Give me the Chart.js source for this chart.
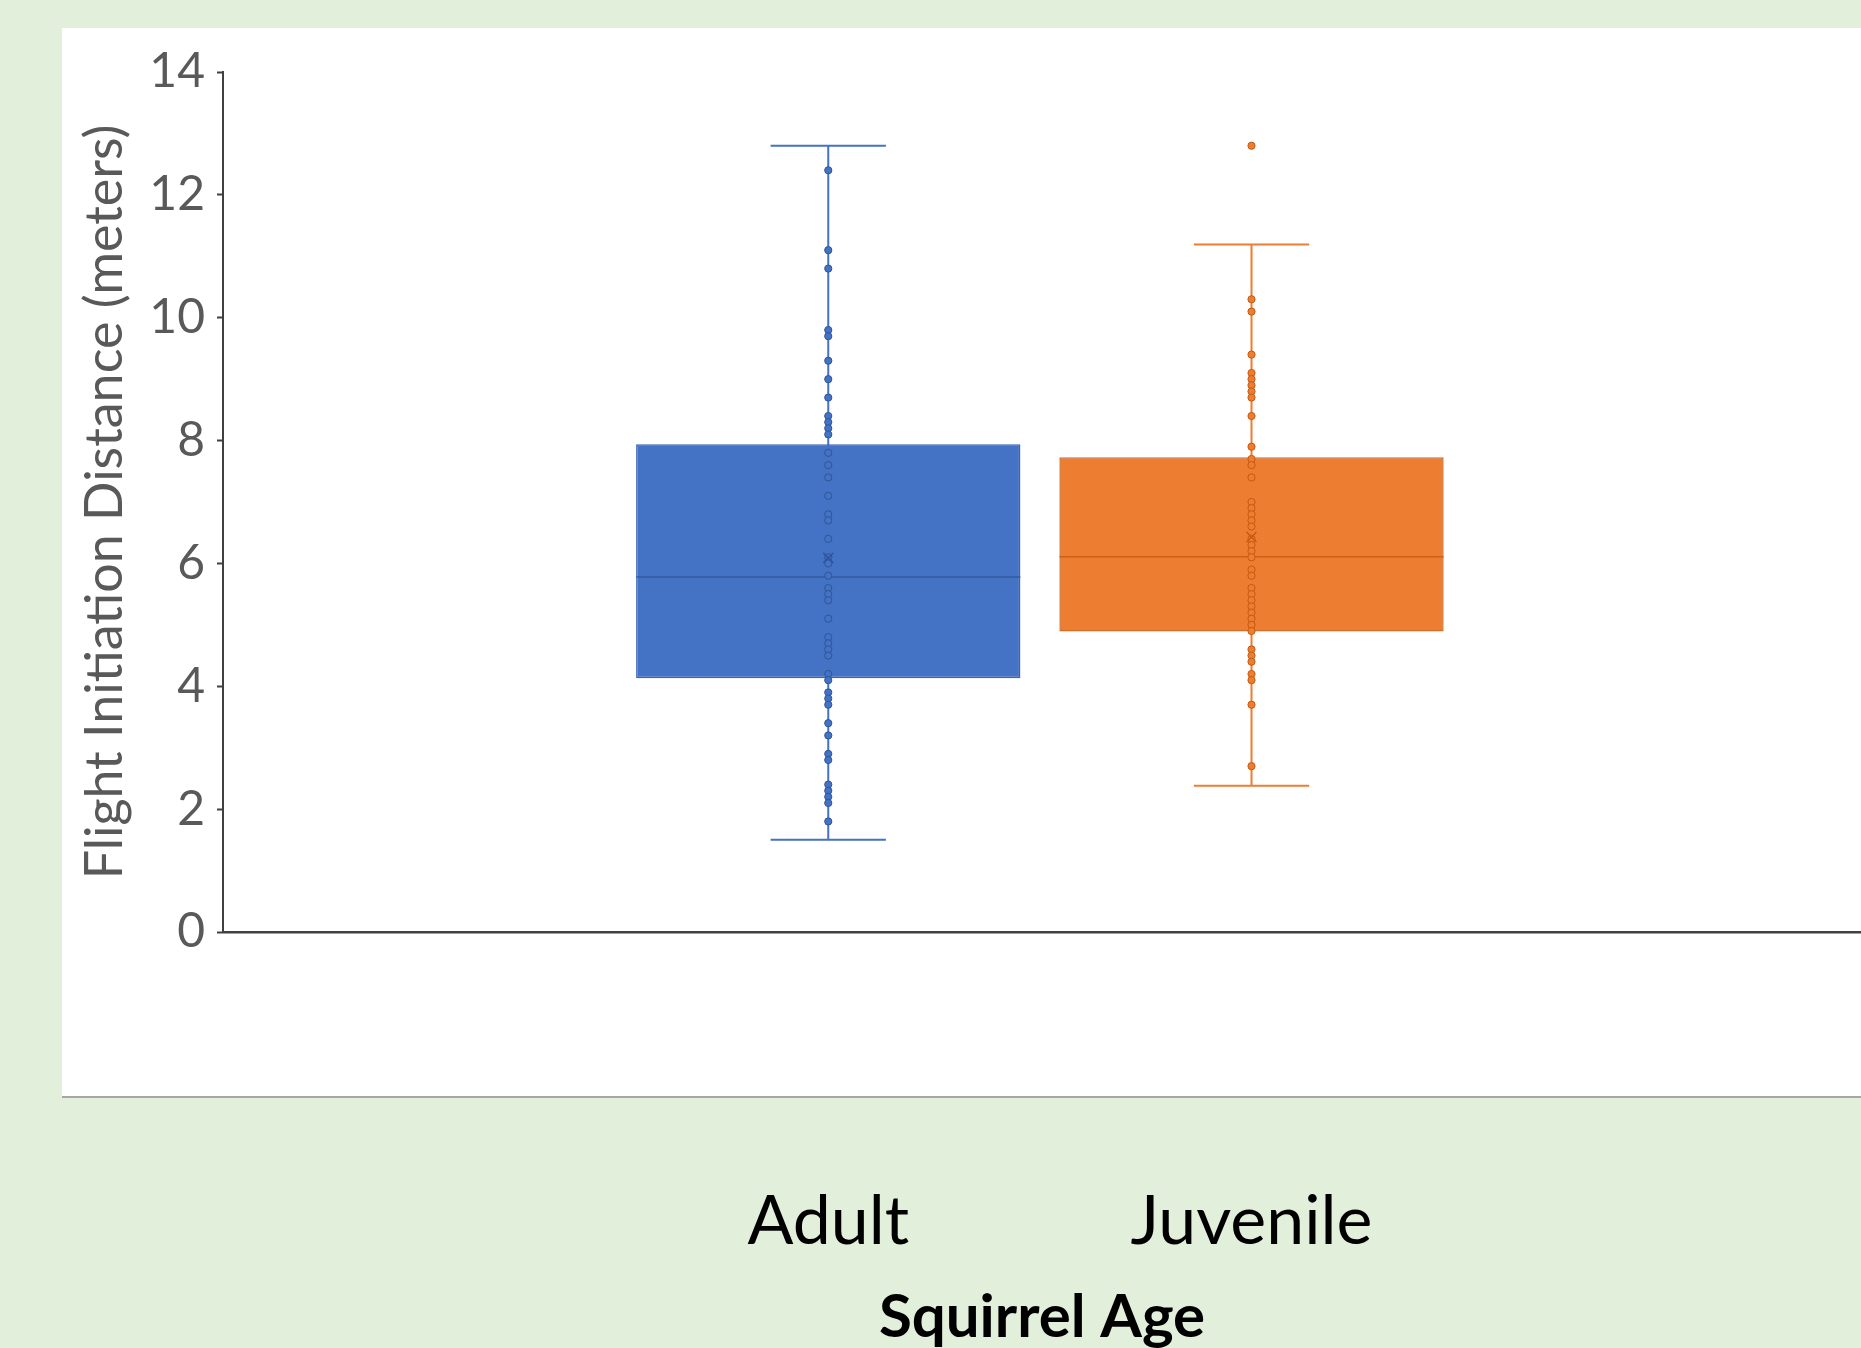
<!DOCTYPE html>
<html>
<head>
<meta charset="utf-8">
<script src="https://cdn.jsdelivr.net/npm/chart.js@4.4.1/dist/chart.umd.min.js"></script>
<style>
  html, body { margin: 0; padding: 0; background: #E2EFDA; overflow: hidden; }
  canvas { display: block; }
</style>
</head>
<body>
<canvas id="chart" width="1861" height="1348"></canvas>
<script>
// values
var categories = ['Adult', 'Juvenile'];
var adultPoints = [12.4, 11.1, 10.8, 9.8, 9.7, 9.3, 9.0, 8.7, 8.4, 8.3, 8.2, 8.1,
    7.8, 7.6, 7.4, 7.1, 6.8, 6.7, 6.4, 6.1, 6.0, 5.8, 5.6, 5.5, 5.4, 5.1,
    4.8, 4.7, 4.6, 4.5, 4.2, 4.1, 3.9, 3.8, 3.7, 3.4, 3.2, 2.9, 2.8,
    2.4, 2.3, 2.2, 2.1, 1.8];
var juvenilePoints = [12.8, 10.3, 10.1, 9.4, 9.1, 9.0, 8.9, 8.8, 8.7, 8.4, 7.9,
    7.7, 7.6, 7.4, 7.0, 6.9, 6.8, 6.7, 6.6, 6.4, 6.3, 6.2, 6.1, 5.9, 5.8,
    5.6, 5.5, 5.4, 5.3, 5.2, 5.1, 5.0, 4.9, 4.6, 4.5, 4.4, 4.2, 4.1, 3.7, 2.7];
var q1Values = [4.13, 4.89];
var medianValues = [5.78, 6.11];
var q3Values = [7.94, 7.73];
var whiskerLow = [1.5, 2.38];
var whiskerHigh = [12.8, 11.19];
var meanValues = [6.09, 6.43];
var yTicks = [0, 2, 4, 6, 8, 10, 12, 14];

var fillColors = ['#4472C4', '#ED7D31'];
var lineColors = ['#2F5597', '#C55A11'];
var font = 'Lato';

var panelPlugin = {
    id: 'panel',
    beforeDraw: function (chart) {
        var ctx = chart.ctx;
        ctx.save();
        ctx.fillStyle = '#E2EFDA';
        ctx.fillRect(0, 0, chart.width, chart.height);
        ctx.fillStyle = '#FFFFFF';
        ctx.fillRect(62, 28, chart.width - 62, 1068);
        ctx.strokeStyle = '#A6A6A6';
        ctx.lineWidth = 2;
        ctx.beginPath();
        ctx.moveTo(62, 1097);
        ctx.lineTo(chart.width, 1097);
        ctx.stroke();
        ctx.restore();
    }
};

// whiskers behind the boxes, median lines on top of them
var boxPartsPlugin = {
    id: 'boxParts',
    beforeDatasetsDraw: function (chart) {
        var xs = chart.scales.x, ys = chart.scales.y, ctx = chart.ctx;
        var bars = chart.getDatasetMeta(0).data;
        categories.forEach(function (c, i) {
            var cx = xs.getPixelForValue(i + 1);
            var half = bars[i].width * 0.15;
            ctx.save();
            ctx.strokeStyle = fillColors[i];
            ctx.lineWidth = 2;
            ctx.beginPath();
            ctx.moveTo(cx, ys.getPixelForValue(whiskerLow[i]));
            ctx.lineTo(cx, ys.getPixelForValue(whiskerHigh[i]));
            [whiskerLow[i], whiskerHigh[i]].forEach(function (v) {
                var py = ys.getPixelForValue(v);
                ctx.moveTo(cx - half, py);
                ctx.lineTo(cx + half, py);
            });
            ctx.stroke();
            ctx.restore();
        });
    },
    afterDatasetDraw: function (chart, args) {
        if (args.index !== 0) return;
        var ys = chart.scales.y, ctx = chart.ctx;
        args.meta.data.forEach(function (bar, i) {
            var py = ys.getPixelForValue(medianValues[i]);
            ctx.save();
            ctx.strokeStyle = lineColors[i];
            ctx.globalAlpha = 0.8;
            ctx.lineWidth = 1.5;
            ctx.beginPath();
            ctx.moveTo(bar.x - bar.width / 2, py);
            ctx.lineTo(bar.x + bar.width / 2, py);
            ctx.stroke();
            ctx.restore();
        });
    }
};

function pointData(values, pos) {
    return values.map(function (v) { return {x: pos, y: v}; });
}

var config = {
    type: 'scatter',
    data: {
        datasets: [{
            type: 'bar',
            label: 'Boxes',
            data: categories.map(function (c, i) { return {x: i + 1, y: [q1Values[i], q3Values[i]]}; }),
            backgroundColor: fillColors,
            borderColor: ['#3763B5', '#D46B27'],
            borderWidth: 1.5,
            borderSkipped: false,
            categoryPercentage: 1,
            barPercentage: 0.908,
            order: 4
        }, {
            label: categories[0],
            data: pointData(adultPoints, 1),
            pointRadius: 3.6,
            pointBackgroundColor: fillColors[0],
            pointBorderColor: lineColors[0],
            pointBorderWidth: 1,
            order: 2
        }, {
            label: categories[1],
            data: pointData(juvenilePoints, 2),
            pointRadius: 3.6,
            pointBackgroundColor: fillColors[1],
            pointBorderColor: lineColors[1],
            pointBorderWidth: 1,
            order: 2
        }, {
            label: 'Mean',
            data: categories.map(function (c, i) { return {x: i + 1, y: meanValues[i]}; }),
            pointStyle: 'crossRot',
            pointRadius: 7,
            pointBorderColor: lineColors,
            pointBorderWidth: 1.5,
            order: 1
        }]
    },
    options: {
        responsive: false,
        animation: false,
        layout: {
            autoPadding: false,
            padding: {left: 0, right: 0, top: 72, bottom: 0}
        },
        plugins: {
            legend: {display: false},
            tooltip: {enabled: false},
            title: {display: false}
        },
        scales: {
            x: {
                type: 'linear',
                min: -0.43,
                max: 3.44,
                offset: false,
                afterFit: function (scale) {
                    scale.height = 416;
                    scale.paddingLeft = 0;
                    scale.paddingRight = 0;
                },
                afterBuildTicks: function (scale) {
                    scale.ticks = categories.map(function (c, i) { return {value: i + 1}; });
                },
                grid: {display: false, drawTicks: false},
                border: {display: true, color: '#404040', width: 2.5},
                ticks: {
                    autoSkip: false,
                    maxRotation: 0,
                    padding: 249,
                    color: '#000000',
                    font: {family: font, size: 68},
                    callback: function (v) { return categories[v - 1]; }
                },
                title: {
                    display: true,
                    text: 'Squirrel Age',
                    color: '#000000',
                    padding: {top: 0, bottom: 0},
                    font: {family: font, size: 60, weight: 'bold', lineHeight: 1}
                }
            },
            y: {
                min: 0,
                max: 14,
                afterFit: function (scale) { scale.width = 223; },
                afterBuildTicks: function (scale) {
                    scale.ticks = yTicks.map(function (v) { return {value: v}; });
                },
                grid: {
                    display: true,
                    drawOnChartArea: false,
                    drawTicks: true,
                    tickLength: 6,
                    tickWidth: 2,
                    tickColor: '#404040'
                },
                border: {display: true, color: '#404040', width: 2},
                ticks: {
                    padding: 12,
                    color: '#595959',
                    font: {family: font, size: 48}
                },
                title: {
                    display: true,
                    text: 'Flight Initiation Distance (meters)',
                    color: '#595959',
                    padding: {top: 74, bottom: 0},
                    font: {family: font, size: 52}
                }
            }
        }
    },
    plugins: [panelPlugin, boxPartsPlugin]
};

new Chart(document.getElementById('chart').getContext('2d'), config);
</script>
</body>
</html>
